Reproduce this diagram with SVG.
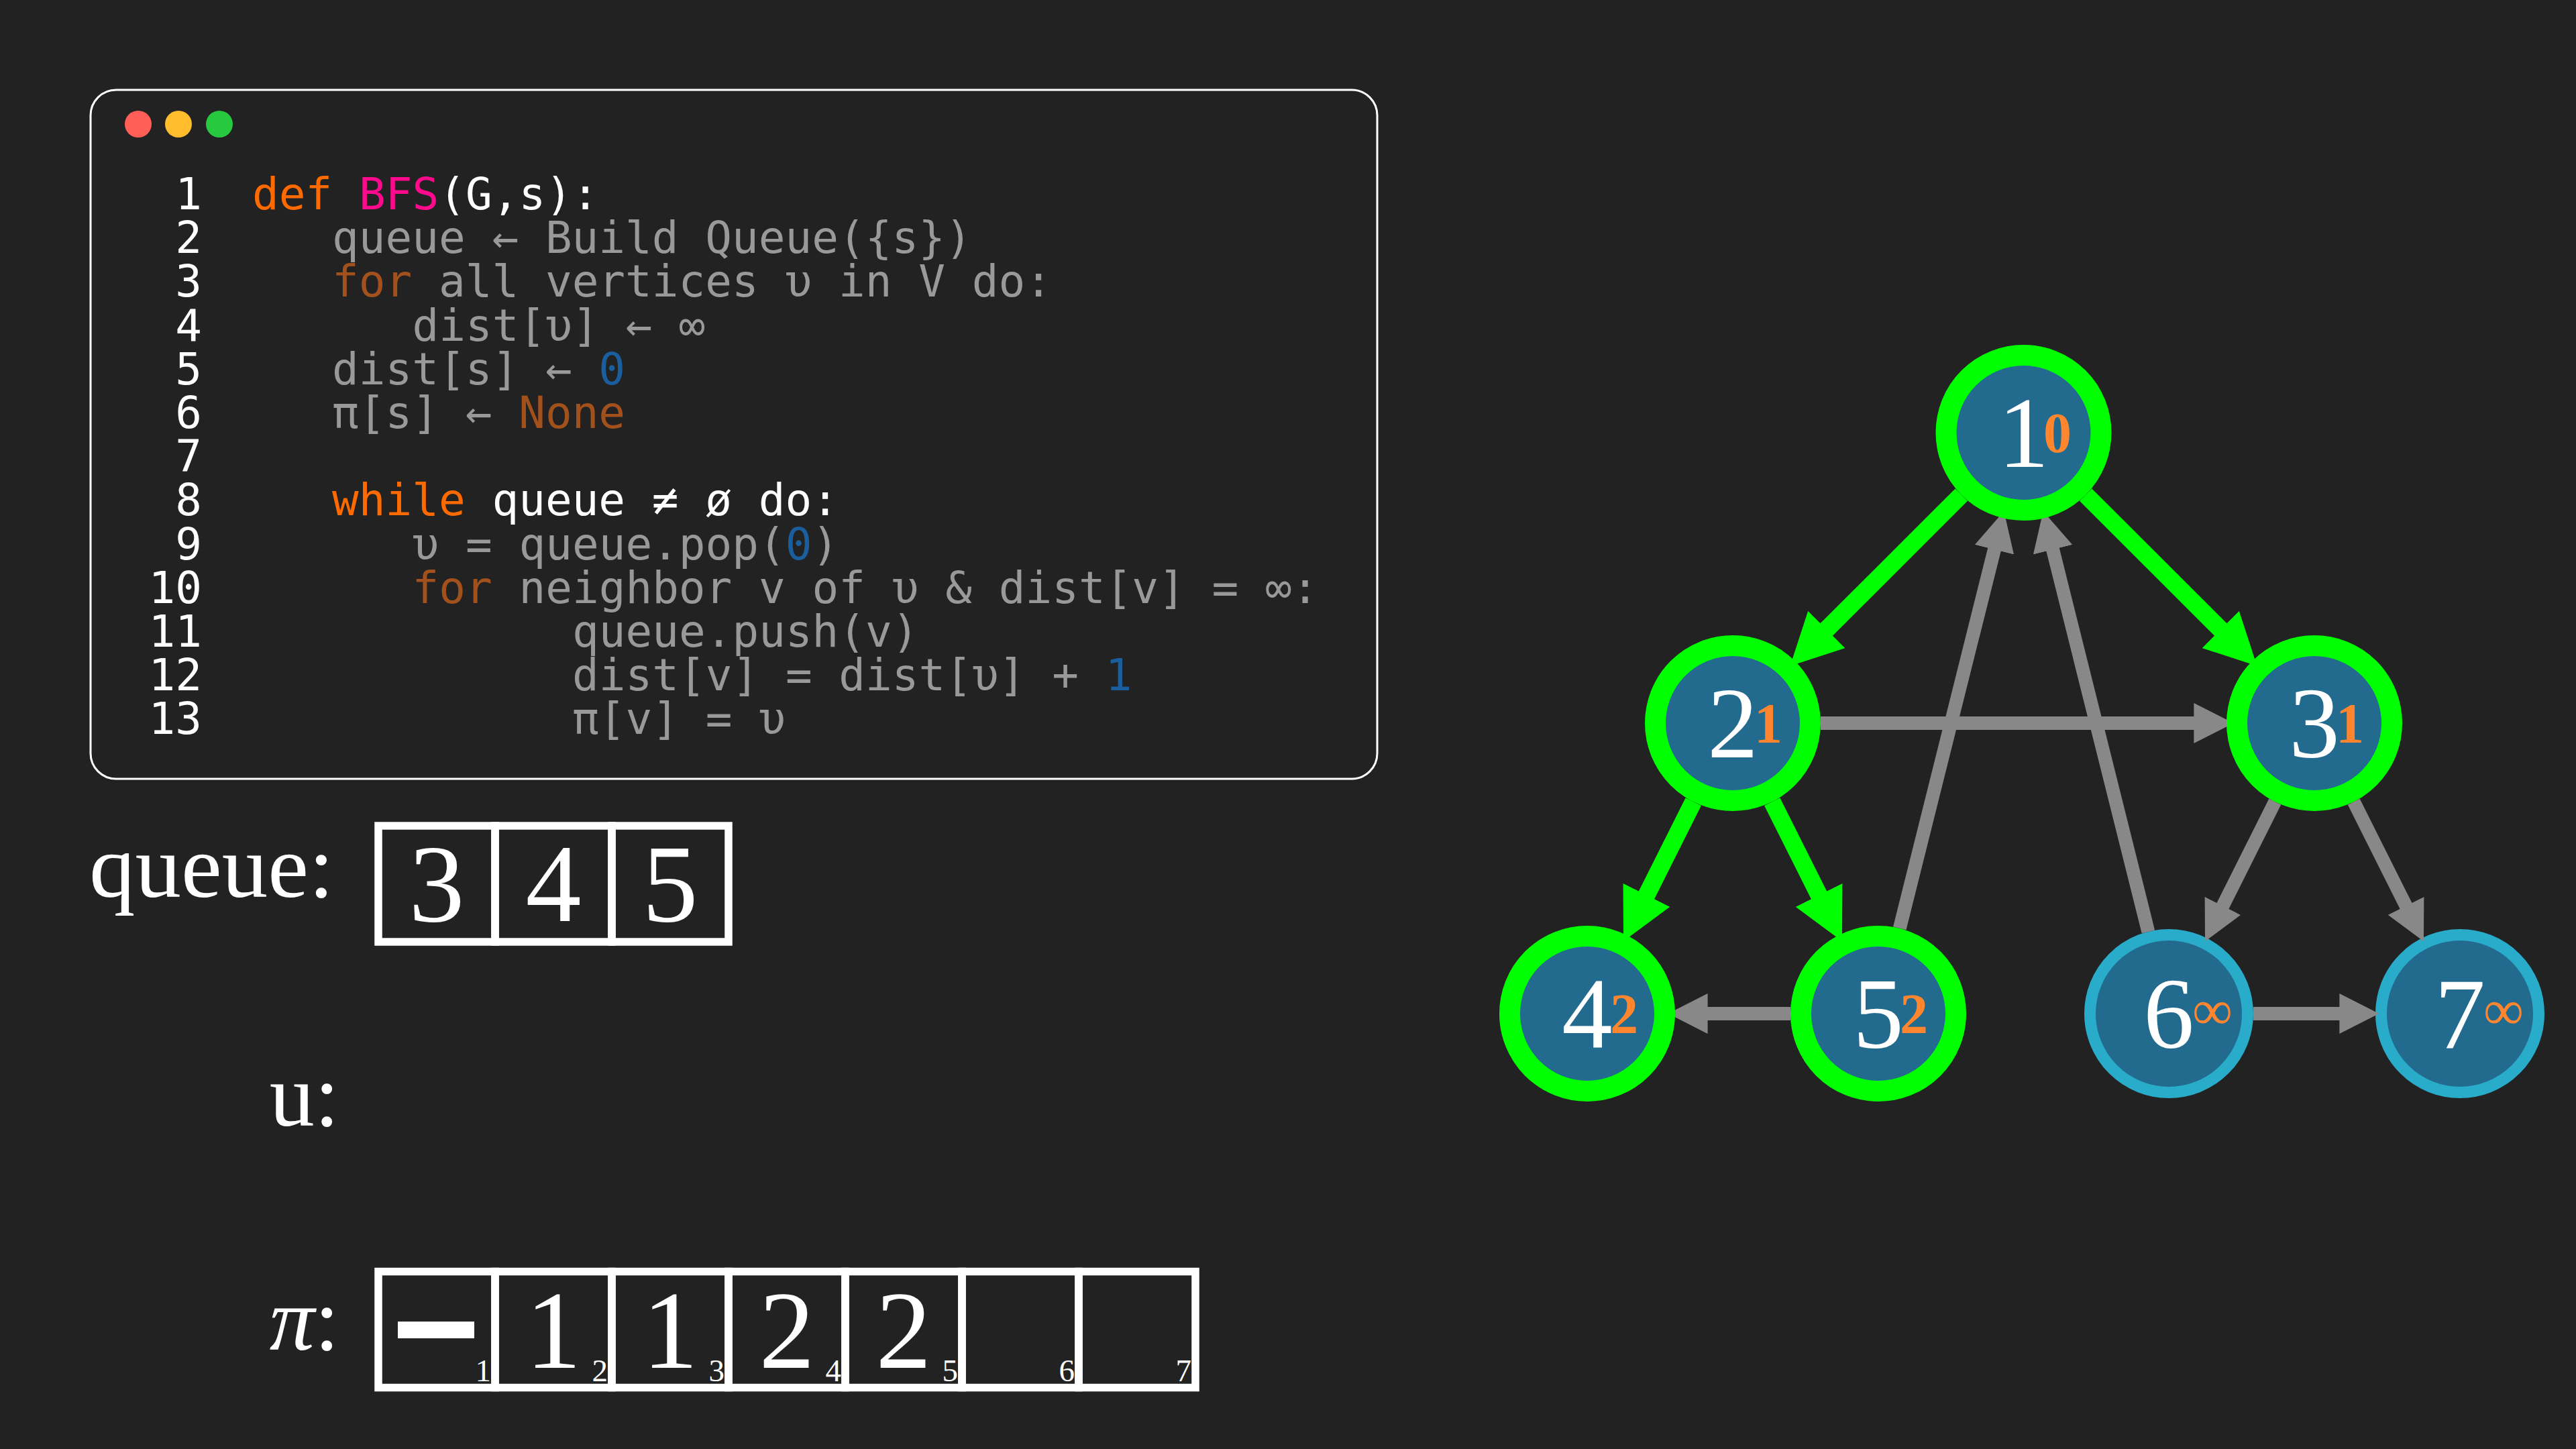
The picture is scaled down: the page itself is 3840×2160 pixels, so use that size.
<svg xmlns="http://www.w3.org/2000/svg" width="3840" height="2160" viewBox="0 0 3840 2160">
<defs>
<style>
.code{font-family:"DejaVu Sans Mono","Liberation Mono",monospace;font-size:66px;fill:#999999}
.ln{font-family:"DejaVu Sans Mono","Liberation Mono",monospace;font-size:66px;fill:#ffffff;text-anchor:end}
.kw{fill:#FF6A00}
.kwd{fill:#A3511C}
.fn{fill:#FF0A8C}
.wh{fill:#ffffff}
.num{fill:#1B5E9E}
.serif{font-family:"Liberation Serif","DejaVu Serif",serif;fill:#ffffff}
.lbl{font-size:134px;text-anchor:end}
.big{font-size:166px;text-anchor:middle}
.sub{font-size:47px;text-anchor:end}
.cell{fill:none;stroke:#ffffff;stroke-width:11.5}
.nd{fill:#236B8E;stroke:#29ABCA;stroke-width:17}
.hl{fill:none;stroke:#00FF00;stroke-width:31}
.nl{font-family:"Liberation Serif","DejaVu Serif",serif;font-size:151px;fill:#ffffff}
.mn{text-anchor:middle}
.dl{font-size:84px;fill:#FF862F;font-weight:bold;text-anchor:start}
.inf{font-size:84px;fill:#FF862F;text-anchor:start}
.eg{stroke:#00FF00;stroke-width:26;fill:none;marker-end:url(#ag)}
.ey{stroke:#888888;stroke-width:20;fill:none;marker-end:url(#ay)}
</style>
<marker id="ag" markerUnits="strokeWidth" markerWidth="2.95" markerHeight="3" viewBox="0 0 2.95 3" refX="0.03" refY="1.5" orient="auto"><path d="M0,0 L2.95,1.5 L0,3 z" fill="#00FF00"/></marker>
<marker id="ay" markerUnits="strokeWidth" markerWidth="2.95" markerHeight="3" viewBox="0 0 2.95 3" refX="0.03" refY="1.5" orient="auto"><path d="M0,0 L2.95,1.5 L0,3 z" fill="#888888"/></marker>
</defs>
<rect x="0" y="0" width="3840" height="2160" fill="#222222"/>

<g id="code-window">
<rect x="135" y="134" width="1918" height="1027" rx="38" ry="38" fill="#222222" stroke="#ffffff" stroke-width="3"/>
<circle cx="206" cy="185" r="20" fill="#FF5F56"/>
<circle cx="266" cy="185" r="20" fill="#FFBD2E"/>
<circle cx="327" cy="185" r="20" fill="#27C93F"/>
<text id="line-numbers" class="ln"><tspan x="301" y="312">1</tspan><tspan x="301" y="377.2">2</tspan><tspan x="301" y="442.4">3</tspan><tspan x="301" y="507.6">4</tspan><tspan x="301" y="572.8">5</tspan><tspan x="301" y="638">6</tspan><tspan x="301" y="703.2">7</tspan><tspan x="301" y="768.4">8</tspan><tspan x="301" y="833.6">9</tspan><tspan x="301" y="898.8">10</tspan><tspan x="301" y="964">11</tspan><tspan x="301" y="1029.2">12</tspan><tspan x="301" y="1094.4">13</tspan></text>
<text id="code-lines" class="code" xml:space="preserve"><tspan x="376" y="312"><tspan class="kw">def</tspan><tspan class="wh"> </tspan><tspan class="fn">BFS</tspan><tspan class="wh">(G,s):</tspan></tspan><tspan x="495" y="377.2">queue ← Build Queue({s})</tspan><tspan x="495" y="442.4"><tspan class="kwd">for</tspan> all vertices υ in V do:</tspan><tspan x="614.5" y="507.6">dist[υ] ← ∞</tspan><tspan x="495" y="572.8">dist[s] ← <tspan class="num">0</tspan></tspan><tspan x="495" y="638">π[s] ← <tspan class="kwd">None</tspan></tspan><tspan x="495" y="768.4"><tspan class="kw">while</tspan><tspan class="wh"> queue ≠ ø do:</tspan></tspan><tspan x="614.5" y="833.6">υ = queue.pop(<tspan class="num">0</tspan>)</tspan><tspan x="614.5" y="898.8"><tspan class="kwd">for</tspan> neighbor v of υ &amp; dist[v] = ∞:</tspan><tspan x="853" y="964">queue.push(v)</tspan><tspan x="853" y="1029.2">dist[v] = dist[υ] + <tspan class="num">1</tspan></tspan><tspan x="853" y="1094.4">π[v] = υ</tspan></text>
</g>

<g id="queue">
<text class="serif lbl" x="498" y="1337" textLength="365" lengthAdjust="spacingAndGlyphs">queue:</text>
<rect class="cell" x="564" y="1231" width="174" height="173"/>
<rect class="cell" x="738" y="1231" width="174" height="173"/>
<rect class="cell" x="912" y="1231" width="174" height="173"/>
<text class="serif big" x="651" y="1373">3</text>
<text class="serif big" x="825" y="1373">4</text>
<text class="serif big" x="999" y="1373">5</text>
</g>

<g id="current-u">
<text class="serif lbl" x="506" y="1678">u:</text>
</g>

<g id="pi-array">
<text class="serif lbl" x="506" y="2012"><tspan font-style="italic">π</tspan>:</text>
<rect class="cell" x="564" y="1895.5" width="174" height="173"/>
<rect class="cell" x="738" y="1895.5" width="174" height="173"/>
<rect class="cell" x="912" y="1895.5" width="174" height="173"/>
<rect class="cell" x="1086" y="1895.5" width="174" height="173"/>
<rect class="cell" x="1260" y="1895.5" width="174" height="173"/>
<rect class="cell" x="1434" y="1895.5" width="174" height="173"/>
<rect class="cell" x="1608" y="1895.5" width="174" height="173"/>
<rect x="593" y="1970" width="114" height="25" fill="#ffffff"/>
<text class="serif sub" x="732" y="2059">1</text>
<text class="serif"><tspan class="big" x="825" y="2039">1</tspan><tspan class="sub" x="906" y="2059">2</tspan></text>
<text class="serif"><tspan class="big" x="999" y="2039">1</tspan><tspan class="sub" x="1080" y="2059">3</tspan></text>
<text class="serif"><tspan class="big" x="1173" y="2039">2</tspan><tspan class="sub" x="1254" y="2059">4</tspan></text>
<text class="serif"><tspan class="big" x="1347" y="2039">2</tspan><tspan class="sub" x="1428" y="2059">5</tspan></text>
<text class="serif sub" x="1602" y="2059">6</text>
<text class="serif sub" x="1776" y="2059">7</text>
</g>

<g id="node-6">
<circle class="nd" cx="3233" cy="1511" r="117.5"/>
<text class="nl"><tspan class="mn" x="3233" y="1562">6</tspan><tspan class="inf" x="3268" y="1534">∞</tspan></text>
</g>
<g id="node-7">
<circle class="nd" cx="3667" cy="1511" r="117.5"/>
<text class="nl"><tspan class="mn" x="3667" y="1562">7</tspan><tspan class="inf" x="3702" y="1534">∞</tspan></text>
</g>

<g id="connectors">
<line class="eg" x1="2923.8" y1="737.6" x2="2722.2" y2="939"/>
<line class="eg" x1="3109.2" y1="737.6" x2="3310.8" y2="939"/>
<line class="eg" x1="2524.3" y1="1195.1" x2="2454.1" y2="1335.1"/>
<line class="eg" x1="2641.7" y1="1195.1" x2="2711.9" y2="1335.1"/>
<line class="ey" x1="2714" y1="1078" x2="3271" y2="1078"/>
<line class="ey" x1="2831.8" y1="1383.9" x2="2973.1" y2="818.7"/>
<line class="ey" x1="3202.4" y1="1388.8" x2="3059.9" y2="818.7"/>
<line class="ey" x1="3391.3" y1="1195.1" x2="3313.2" y2="1351"/>
<line class="ey" x1="3508.7" y1="1195.1" x2="3586.8" y2="1351"/>
<line class="ey" x1="2669" y1="1511" x2="2545" y2="1511"/>
<line class="ey" x1="3359" y1="1511" x2="3488" y2="1511"/>
</g>

<g id="node-1">
<circle class="nd" cx="3016.5" cy="645" r="117.5"/>
<circle class="hl" cx="3016.5" cy="645" r="115.5"/>
<text class="nl"><tspan class="mn" x="3016.5" y="696">1</tspan><tspan class="dl" x="3046" y="674">0</tspan></text>
</g>
<g id="node-2">
<circle class="nd" cx="2583" cy="1078" r="117.5"/>
<circle class="hl" cx="2583" cy="1078" r="115.5"/>
<text class="nl"><tspan class="mn" x="2583" y="1129">2</tspan><tspan class="dl" x="2615" y="1107">1</tspan></text>
</g>
<g id="node-3">
<circle class="nd" cx="3450" cy="1078" r="117.5"/>
<circle class="hl" cx="3450" cy="1078" r="115.5"/>
<text class="nl"><tspan class="mn" x="3450" y="1129">3</tspan><tspan class="dl" x="3482" y="1107">1</tspan></text>
</g>
<g id="node-4">
<circle class="nd" cx="2366" cy="1511" r="117.5"/>
<circle class="hl" cx="2366" cy="1511" r="115.5"/>
<text class="nl"><tspan class="mn" x="2366" y="1562">4</tspan><tspan class="dl" x="2400" y="1540">2</tspan></text>
</g>
<g id="node-5">
<circle class="nd" cx="2800" cy="1511" r="117.5"/>
<circle class="hl" cx="2800" cy="1511" r="115.5"/>
<text class="nl"><tspan class="mn" x="2800" y="1562">5</tspan><tspan class="dl" x="2832" y="1540">2</tspan></text>
</g>
</svg>
